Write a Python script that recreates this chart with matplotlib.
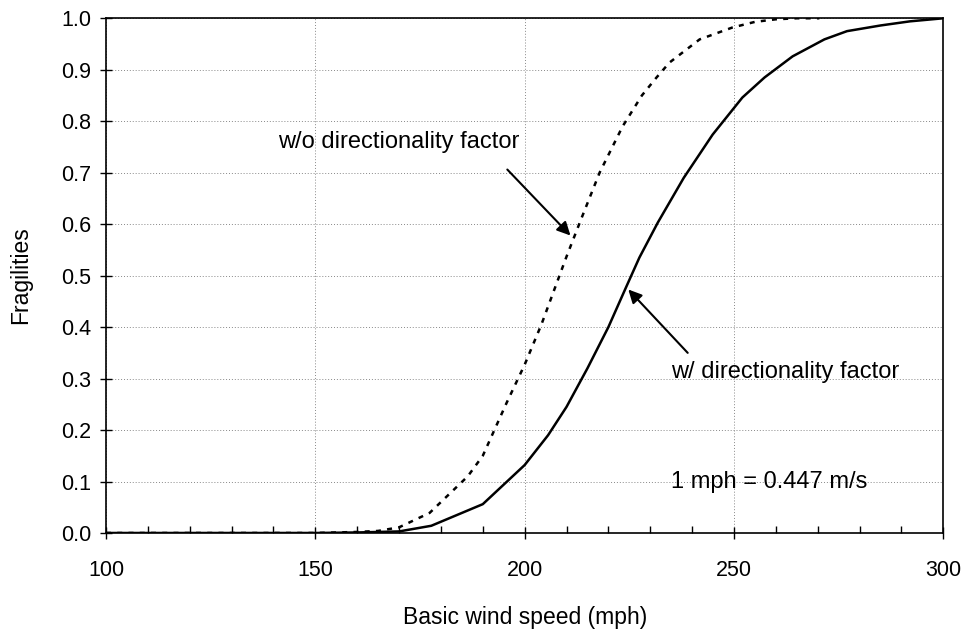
import matplotlib
matplotlib.use("Agg")
import matplotlib.pyplot as plt
from matplotlib.ticker import MultipleLocator

plt.rcParams['font.family'] = ['Liberation Sans', 'DejaVu Sans']

# with directionality factor (solid)
speed_w = [100, 150, 160, 170, 177.7, 190, 200, 205.6, 210, 215, 220, 224.2, 227.4,
           231.8, 238, 244.9, 252, 257.3, 264, 271.6, 277, 285, 292, 300]
frag_w = [0, 0, 0.001, 0.003, 0.014, 0.056, 0.132, 0.19, 0.245, 0.32, 0.40, 0.477, 0.535,
          0.603, 0.69, 0.774, 0.846, 0.885, 0.926, 0.959, 0.975, 0.986, 0.994, 1.0]

# without directionality factor (dotted)
speed_wo = [100, 150, 160, 165, 170, 177.3, 186.4, 190, 195.7, 200, 204, 210, 213.5,
            217.9, 223.4, 228, 231.5, 234.6, 241.8, 249.6, 255, 260, 265, 270.4]
frag_wo = [0, 0, 0.002, 0.004, 0.011, 0.039, 0.11, 0.15, 0.253, 0.327, 0.405, 0.537, 0.61,
           0.70, 0.79, 0.85, 0.885, 0.914, 0.959, 0.982, 0.993, 0.998, 1.0, 1.0]

fig = plt.figure(figsize=(9.68, 6.3), dpi=100)
ax = fig.add_axes([0.1095, 0.154, 0.865, 0.817])

ax.plot(speed_w, frag_w, color='black', lw=1.8)
ax.plot(speed_wo, frag_wo, color='black', lw=1.8, linestyle=(0, (2.0, 2.5)))

ax.set_xlim(100, 300)
ax.set_ylim(0, 1.0)
ax.xaxis.set_major_locator(MultipleLocator(50))
ax.xaxis.set_minor_locator(MultipleLocator(10))
ax.yaxis.set_major_locator(MultipleLocator(0.1))
ax.yaxis.set_major_formatter(matplotlib.ticker.FormatStrFormatter('%.1f'))

ax.grid(True, which='major', color='#888888', linestyle=(0, (1, 2)), lw=0.7)
ax.tick_params(axis='both', which='major', direction='inout', length=9, width=1,
               labelsize=15.5, colors='black')
ax.tick_params(axis='x', which='major', pad=15)
ax.tick_params(axis='y', which='major', pad=6)
ax.tick_params(axis='x', which='minor', direction='in', length=5, width=1)
for s in ax.spines.values():
    s.set_color('black')
    s.set_linewidth(1.2)

ax.set_xlabel('Basic wind speed (mph)', fontsize=16.5, labelpad=18)
ax.set_ylabel('Fragilities', fontsize=16.5, labelpad=21)

arrow = dict(arrowstyle='-|>', color='black', lw=1.5, mutation_scale=20)
ax.annotate('', xy=(211.4, 0.574), xytext=(195.4, 0.71), arrowprops=arrow)
ax.text(141, 0.76, 'w/o directionality factor', fontsize=17, va='center', ha='left')
ax.annotate('', xy=(224.3, 0.477), xytext=(239.4, 0.346), arrowprops=arrow)
ax.text(235, 0.313, 'w/ directionality factor', fontsize=17, va='center', ha='left')
ax.text(235, 0.099, '1 mph = 0.447 m/s', fontsize=17, va='center', ha='left')

fig.savefig('out.png', dpi=100)
